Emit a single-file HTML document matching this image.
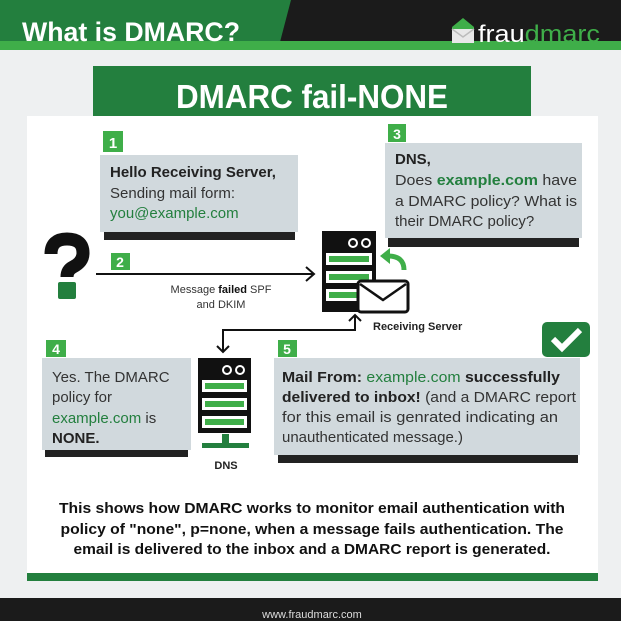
<!DOCTYPE html>
<html><head><meta charset="utf-8"><style>
html,body{margin:0;padding:0;background:#eef0f1}
svg{display:block}
text{font-family:"Liberation Sans",sans-serif}
</style></head><body>
<svg width="621" height="621" viewBox="0 0 621 621" xmlns="http://www.w3.org/2000/svg">
<rect width="621" height="621" fill="#eef0f1"/>
<!-- header -->
<rect x="0" y="0" width="621" height="42" fill="#1b1b1b"/>
<polygon points="0,0 291,0 280,42 0,42" fill="#237f3e"/>
<rect x="0" y="41" width="621" height="9" fill="#3fae49"/>
<text x="22" y="41" font-size="27" font-weight="bold" fill="#fff" textLength="218" lengthAdjust="spacingAndGlyphs">What is DMARC?</text>
<g>
<polygon points="452,27 463,18 474,27 474,43 452,43" fill="#3fae49"/>
<polygon points="452,29 474,29 474,43 452,43" fill="#e8e8e8"/>
<polyline points="452,29 463,37 474,29" fill="none" stroke="#bbb" stroke-width="1.5"/>
</g>
<text x="478" y="42" font-size="24" fill="#fff" textLength="122" lengthAdjust="spacingAndGlyphs">frau<tspan fill="#3fae49">dmarc</tspan></text>
<!-- banner -->
<rect x="93" y="66" width="438" height="50" fill="#237f3e"/>
<text x="312" y="108" font-size="33" font-weight="bold" fill="#fff" text-anchor="middle" textLength="272" lengthAdjust="spacingAndGlyphs">DMARC fail-NONE</text>
<!-- panel -->
<rect x="27" y="116" width="571" height="457" fill="#fff"/>
<rect x="27" y="573" width="571" height="8" fill="#237f3e"/>
<!-- box1 -->
<rect x="104" y="232" width="191" height="8" fill="#222"/>
<rect x="100" y="155" width="198" height="77" fill="#d1d9dd"/>
<rect x="103" y="131" width="20" height="21" fill="#3fae49"/>
<text x="113" y="148" font-size="15" font-weight="bold" fill="#fff" text-anchor="middle">1</text>
<text x="110" y="177" font-size="15" font-weight="bold" fill="#222">Hello Receiving Server,</text>
<text x="110" y="198" font-size="15" fill="#333">Sending mail form:</text>
<text x="110" y="218" font-size="15" fill="#237f3e">you@example.com</text>
<!-- box3 -->
<rect x="388" y="238" width="191" height="9" fill="#222"/>
<rect x="385" y="143" width="197" height="95" fill="#d1d9dd"/>
<rect x="388" y="124" width="18" height="18" fill="#3fae49"/>
<text x="397" y="139" font-size="14" font-weight="bold" fill="#fff" text-anchor="middle">3</text>
<text x="395" y="164" font-size="15" font-weight="bold" fill="#222">DNS,</text>
<text x="395" y="185" font-size="15" fill="#333" textLength="182" lengthAdjust="spacingAndGlyphs">Does <tspan fill="#237f3e" font-weight="bold">example.com</tspan> have</text>
<text x="395" y="206" font-size="15" fill="#333" textLength="182" lengthAdjust="spacingAndGlyphs">a DMARC policy? What is</text>
<text x="395" y="226" font-size="15" fill="#333">their DMARC policy?</text>
<!-- question -->
<path d="M51,254 Q51,239 67,239 Q83,239 83,253 Q83,262 73,267 Q67,270 67,277" fill="none" stroke="#111" stroke-width="13"/>
<rect x="58" y="282" width="18" height="17" rx="2" fill="#237f3e"/>
<!-- arrow 2 -->
<line x1="96" y1="274" x2="314" y2="274" stroke="#111" stroke-width="2"/>
<polyline points="306,267 314,274 306,281" fill="none" stroke="#111" stroke-width="2"/>
<rect x="111" y="253" width="19" height="17" fill="#3fae49"/>
<text x="120" y="267" font-size="14" font-weight="bold" fill="#fff" text-anchor="middle">2</text>
<text x="221" y="293" font-size="11" fill="#333" text-anchor="middle">Message <tspan font-weight="bold" fill="#111">failed</tspan> SPF</text>
<text x="221" y="308" font-size="11" fill="#333" text-anchor="middle">and DKIM</text>
<!-- receiving server -->
<rect x="322" y="231" width="54" height="81" fill="#111"/>
<circle cx="353" cy="243" r="4" fill="none" stroke="#fff" stroke-width="2"/>
<circle cx="366" cy="243" r="4" fill="none" stroke="#fff" stroke-width="2"/>
<rect x="326" y="253" width="46" height="12" fill="#fff"/><rect x="329" y="256" width="40" height="6" fill="#3fae49"/>
<rect x="326" y="271" width="46" height="12" fill="#fff"/><rect x="329" y="274" width="40" height="6" fill="#3fae49"/>
<rect x="326" y="289" width="46" height="12" fill="#fff"/><rect x="329" y="292" width="40" height="6" fill="#3fae49"/>
<path d="M404,270 Q404,256 388,256" fill="none" stroke="#3fae49" stroke-width="5"/>
<polygon points="380,256 390,248 390,264" fill="#3fae49"/>
<rect x="358" y="281" width="50" height="31" rx="3" fill="#fff" stroke="#111" stroke-width="3"/>
<polyline points="360,284 383,300 406,284" fill="none" stroke="#111" stroke-width="2.5"/>
<text x="373" y="330" font-size="11" font-weight="bold" fill="#222">Receiving Server</text>
<!-- connector -->
<polyline points="223,352 223,330 355,330 355,316" fill="none" stroke="#111" stroke-width="2"/>
<polyline points="349,321 355,315 361,321" fill="none" stroke="#111" stroke-width="2"/>
<polyline points="217,346 223,352 229,346" fill="none" stroke="#111" stroke-width="2"/>
<!-- check -->
<rect x="542" y="322" width="48" height="35" rx="5" fill="#237f3e"/>
<polyline points="553,339 562,348 580,330" fill="none" stroke="#fff" stroke-width="6"/>
<!-- box4 -->
<rect x="45" y="450" width="143" height="7" fill="#222"/>
<rect x="42" y="358" width="149" height="92" fill="#d1d9dd"/>
<rect x="46" y="340" width="20" height="17" fill="#3fae49"/>
<text x="56" y="354" font-size="14" font-weight="bold" fill="#fff" text-anchor="middle">4</text>
<text x="52" y="382" font-size="15" fill="#333">Yes. The DMARC</text>
<text x="52" y="402" font-size="15" fill="#333">policy for</text>
<text x="52" y="423" font-size="15" fill="#333"><tspan fill="#237f3e">example.com</tspan> is</text>
<text x="52" y="443" font-size="15" font-weight="bold" fill="#222">NONE.</text>
<!-- dns server -->
<rect x="198" y="358" width="53" height="75" fill="#111"/>
<circle cx="227" cy="370" r="4" fill="none" stroke="#fff" stroke-width="2"/>
<circle cx="240" cy="370" r="4" fill="none" stroke="#fff" stroke-width="2"/>
<rect x="202" y="380" width="45" height="12" fill="#fff"/><rect x="205" y="383" width="39" height="6" fill="#3fae49"/>
<rect x="202" y="398" width="45" height="12" fill="#fff"/><rect x="205" y="401" width="39" height="6" fill="#3fae49"/>
<rect x="202" y="416" width="45" height="12" fill="#fff"/><rect x="205" y="419" width="39" height="6" fill="#3fae49"/>
<rect x="222" y="434" width="7" height="10" fill="#237f3e"/>
<rect x="202" y="443" width="47" height="5" fill="#237f3e"/>
<text x="226" y="469" font-size="11" font-weight="bold" fill="#222" text-anchor="middle">DNS</text>
<!-- box5 -->
<rect x="278" y="455" width="300" height="8" fill="#222"/>
<rect x="274" y="358" width="306" height="97" fill="#d1d9dd"/>
<rect x="278" y="340" width="19" height="17" fill="#3fae49"/>
<text x="287" y="354" font-size="14" font-weight="bold" fill="#fff" text-anchor="middle">5</text>
<text x="282" y="382" font-size="15" font-weight="bold" fill="#222" textLength="278" lengthAdjust="spacingAndGlyphs">Mail From: <tspan fill="#237f3e" font-weight="normal">example.com</tspan> successfully</text>
<text x="282" y="402" font-size="15" fill="#333" textLength="294" lengthAdjust="spacingAndGlyphs"><tspan font-weight="bold" fill="#222">delivered to inbox!</tspan> (and a DMARC report</text>
<text x="282" y="422" font-size="15" fill="#333" textLength="276" lengthAdjust="spacingAndGlyphs">for this email is genrated indicating an</text>
<text x="282" y="442" font-size="15" fill="#333">unauthenticated message.)</text>
<!-- bottom text -->
<g font-size="15" font-weight="bold" fill="#111" text-anchor="middle">
<text x="312" y="513" textLength="506" lengthAdjust="spacingAndGlyphs">This shows how DMARC works to monitor email authentication with</text>
<text x="312" y="534" textLength="503" lengthAdjust="spacingAndGlyphs">policy of "none", p=none, when a message fails authentication.  The</text>
<text x="312" y="554" textLength="477" lengthAdjust="spacingAndGlyphs">email is delivered to the inbox and a DMARC report is generated.</text>
</g>
<!-- footer -->
<rect x="0" y="598" width="621" height="23" fill="#1b1b1b"/>
<text x="312" y="618" font-size="11" fill="#ddd" text-anchor="middle">www.fraudmarc.com</text>
</svg>
</body></html>
